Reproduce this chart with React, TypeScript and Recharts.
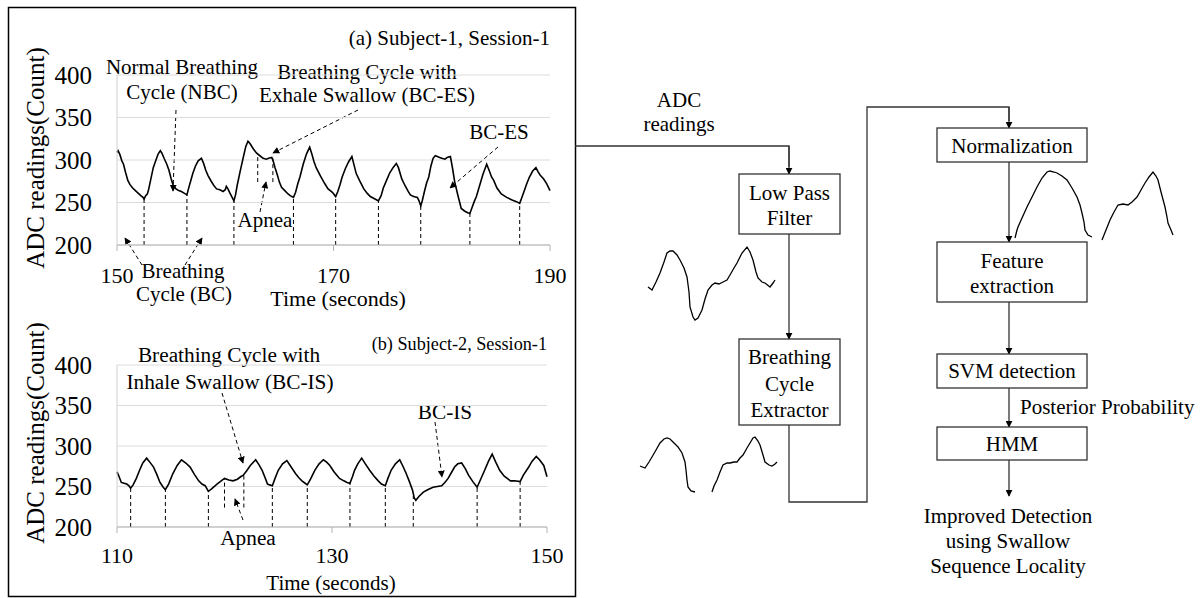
import React from 'react';
import { LineChart, Line, XAxis, YAxis, CartesianGrid, ReferenceLine } from 'recharts';

const FONT = 'Liberation Serif, Times New Roman, serif';

// (a) Subject-1, Session-1
const topTime = [
  150.0, 150.1, 150.25, 150.45, 150.6, 150.8, 151.0, 151.2, 151.45, 151.7, 151.95, 152.2, 152.4, 152.5, 152.65, 152.8,
  152.9, 153.1, 153.35, 153.6, 153.8, 154.0, 154.15, 154.35, 154.6, 154.8, 155.0, 155.2, 155.45, 155.7, 155.95, 156.2,
  156.46, 156.6, 156.8, 157.0, 157.25, 157.5, 157.8, 158.0, 158.2, 158.4, 158.7, 159.0, 159.2, 159.5, 159.8, 160.0,
  160.1, 160.25, 160.4, 160.6, 160.8, 160.95, 161.1, 161.4, 161.7, 161.9, 162.1, 162.3, 162.6, 162.9, 163.2, 163.5,
  163.8, 164.0, 164.3, 164.45, 164.6, 164.8, 165.0, 165.2, 165.5, 165.8, 166.0, 166.3, 166.5, 166.7, 166.9, 167.2,
  167.5, 167.8, 168.0, 168.2, 168.4, 168.8, 169.2, 169.5, 169.9, 170.2, 170.4, 170.6, 170.8, 171.1, 171.4, 171.7,
  171.9, 172.1, 172.4, 172.8, 173.1, 173.4, 173.7, 174.0, 174.15, 174.4, 174.6, 174.9, 175.2, 175.5, 175.8, 176.0,
  176.3, 176.6, 176.9, 177.1, 177.4, 177.75, 177.9, 178.06, 178.2, 178.4, 178.6, 178.8, 179.0, 179.2, 179.4, 179.6,
  179.8, 180.0, 180.3, 180.5, 180.8, 181.0, 181.2, 181.5, 181.8, 182.1, 182.4, 182.6, 182.8, 183.0, 183.2, 183.5,
  183.8, 184.15, 184.4, 184.6, 184.8, 185.1, 185.5, 186.0, 186.5, 186.9, 187.2, 187.4, 187.6, 187.85, 188.1, 188.4,
  188.7, 188.9, 189.1, 189.4, 189.7, 190.0,
];
const topAdc = [
  309, 311, 307, 299, 295, 285, 276, 271, 267, 264, 261, 258, 256, 254, 258, 260,
  264, 276, 291, 300, 307, 311, 308, 302, 295, 288, 278, 270, 266, 264, 263, 261,
  259, 266, 275, 284, 293, 299, 302, 296, 288, 282, 275, 269, 266, 265, 263, 265,
  269, 266, 262, 257, 252, 259, 270, 288, 305, 316, 322, 319, 313, 308, 305, 302,
  301, 302, 303, 298, 291, 283, 274, 268, 264, 260, 258, 256, 262, 272, 280, 295,
  307, 315, 307, 298, 291, 281, 272, 266, 262, 257, 263, 271, 280, 290, 298, 304,
  294, 284, 276, 266, 261, 257, 255, 253, 252, 258, 267, 276, 285, 291, 296, 291,
  278, 270, 263, 259, 257, 256, 252, 246, 252, 263, 273, 280, 293, 302, 305, 304,
  303, 302, 301, 303, 304, 290, 274, 258, 243, 240, 238, 237, 244, 251, 257, 270,
  283, 295, 287, 280, 276, 267, 260, 256, 253, 251, 249, 256, 263, 272, 280, 287,
  291, 286, 282, 278, 272, 264,
];
const topCycleTimes = [152.5, 156.46, 160.8, 166.3, 170.2, 174.15, 178.06, 182.6, 187.2];
const topCycleTops = [254, 259, 252, 256, 257, 252, 246, 237, 249];
const topApneaTimes = [163.0, 164.4];
const topApneaTops = [304, 302];
const topApneaBottom = 274;
const topTicks = [150, 170, 190];

// (b) Subject-2, Session-1
const bottomTime = [
  110.0, 110.2, 110.4, 110.65, 110.9, 111.1, 111.27, 111.5, 111.8, 112.1, 112.4, 112.76, 113.0, 113.4, 113.7, 114.0,
  114.3, 114.5, 114.8, 115.2, 115.6, 116.0, 116.4, 116.8, 117.2, 117.6, 117.9, 118.2, 118.5, 118.8, 119.3, 119.6,
  120.0, 120.4, 120.8, 121.2, 121.5, 121.75, 122.1, 122.4, 122.9, 123.2, 123.5, 123.8, 124.0, 124.2, 124.45, 124.7,
  125.0, 125.4, 125.8, 126.2, 126.6, 126.9, 127.2, 127.5, 127.7, 128.0, 128.4, 128.8, 129.2, 129.5, 129.8, 130.2,
  130.7, 131.1, 131.4, 131.67, 131.9, 132.1, 132.4, 132.76, 133.1, 133.5, 133.9, 134.3, 134.6, 134.96, 135.2, 135.5,
  135.9, 136.3, 136.6, 136.9, 137.2, 137.5, 137.65, 137.8, 138.1, 138.5, 138.9, 139.4, 139.8, 140.2, 140.5, 140.8,
  141.1, 141.4, 141.7, 142.06, 142.4, 142.7, 143.1, 143.5, 143.8, 144.2, 144.55, 144.9, 145.2, 145.6, 146.0, 146.6,
  147.0, 147.5, 147.8, 148.3, 148.6, 149.0, 149.3, 149.7, 150.0,
];
const bottomAdc = [
  268, 262, 255, 254, 253, 251, 248, 252, 260, 270, 279, 285, 281, 274, 265, 255,
  249, 246, 253, 266, 276, 283, 279, 274, 265, 257, 253, 251, 244, 247, 253, 256,
  260, 258, 257, 259, 262, 264, 270, 276, 283, 277, 270, 260, 253, 252, 251, 260,
  270, 278, 282, 274, 266, 261, 257, 254, 252, 259, 270, 278, 283, 280, 276, 268,
  260, 257, 255, 254, 262, 270, 278, 285, 278, 270, 263, 257, 253, 251, 260, 270,
  278, 283, 275, 266, 256, 245, 236, 233, 238, 243, 246, 249, 250, 251, 255, 260,
  267, 274, 278, 279, 272, 264, 256, 249, 258, 270, 281, 290, 281, 270, 263, 257,
  257, 256, 264, 274, 281, 287, 283, 276, 262,
];
const bottomCycleTimes = [111.27, 114.5, 118.5, 124.45, 127.7, 131.67, 134.96, 137.56, 143.5, 147.5];
const bottomCycleTops = [248, 246, 244, 251, 252, 254, 251, 238, 249, 256];
const bottomApneaTimes = [120.0, 121.8];
const bottomApneaTops = [260, 264];
const bottomApneaBottom = 224;
const bottomTicks = [110, 130, 150];

const yTicks = [200, 250, 300, 350, 400];

// thumbnails (sample index, relative amplitude)
const lpfX = [3, 7, 11, 15, 19, 22, 25, 28, 32, 35, 39, 42, 44, 45, 48, 50, 53, 57, 60, 63, 67, 70, 74, 78, 82, 85, 89, 92, 97, 102, 105, 108, 111, 113, 117, 120, 125, 128, 130];
const lpfY = [38, 35, 43, 52, 63, 72, 74, 74, 70, 65, 57, 48, 33, 18, 8, 5, 7, 15, 26, 35, 40, 42, 41, 43, 45, 50, 57, 62, 72, 78, 73, 65, 53, 47, 43, 42, 38, 42, 45];

const bcNbcX = [5, 10, 14, 17, 21, 25, 29, 32, 35, 38, 43, 47, 50, 51, 52, 53, 56, 60];
const bcNbcY = [29, 27, 33, 38, 45, 52, 56, 57, 56, 53, 48, 42, 33, 25, 15, 8, 4, 3];
const bcEsX = [77, 79, 82, 85, 88, 92, 95, 99, 102, 105, 108, 112, 115, 118, 120, 123, 125, 128, 130, 134, 137, 140, 142];
const bcEsY = [3, 9, 15, 23, 30, 32, 32, 33, 33, 37, 40, 47, 52, 57, 58, 54, 50, 40, 33, 30, 29, 31, 33];

const normNbcX = [5, 7, 8, 12, 17, 22, 27, 32, 37, 40, 44, 47, 52, 57, 62, 67, 70, 72, 74, 75, 78, 82];
const normNbcY = [7, 15, 18, 27, 38, 48, 58, 67, 73, 74, 73, 72, 69, 65, 57, 48, 40, 32, 23, 15, 10, 8];
const normEsX = [92, 96, 100, 104, 108, 113, 118, 122, 127, 131, 135, 139, 143, 146, 148, 151, 155, 157, 158, 161, 163];
const normEsY = [5, 15, 25, 33, 40, 41, 40, 43, 48, 55, 62, 68, 73, 69, 65, 53, 38, 28, 22, 15, 10];

const zip = (xs: number[], ys: number[]) => xs.map((x, i) => ({ t: x, v: ys[i] }));

interface SignalProps {
  top: number;
  height: number;
  right: number;
  plotHeight: number;
  times: number[];
  values: number[];
  ticks: number[];
  cycleTimes: number[];
  cycleTops: number[];
  apneaTimes: number[];
  apneaTops: number[];
  apneaBottom: number;
  xTickMargin: number;
}

function SignalChart(p: SignalProps) {
  const data = zip(p.times, p.values);
  const xAxisH = 40;
  return (
    <div style={{ position: 'absolute', left: 0, top: p.top }}>
      <LineChart
        width={575}
        height={p.height}
        data={data}
        margin={{ top: 75, right: p.right, bottom: p.height - 75 - xAxisH - p.plotHeight, left: 57 }}
      >
        <CartesianGrid vertical={false} stroke="#dcdcdc" />
        <XAxis
          dataKey="t"
          type="number"
          domain={[p.ticks[0], p.ticks[p.ticks.length - 1]]}
          ticks={p.ticks}
          interval={0}
          height={xAxisH}
          tickSize={6}
          tickMargin={p.xTickMargin}
          axisLine={{ stroke: '#b3b3b3' }}
          tickLine={{ stroke: '#b3b3b3' }}
          tick={{ fontSize: 22, fill: '#000', fontFamily: FONT }}
        />
        <YAxis
          type="number"
          domain={[200, 400]}
          ticks={yTicks}
          interval={0}
          width={60}
          tickSize={6}
          tickMargin={19}
          tickLine={false}
          axisLine={{ stroke: '#d0d0d0' }}
          tick={{ fontSize: 25, fill: '#000', fontFamily: FONT }}
        />
        {p.cycleTimes.map((t, i) => (
          <ReferenceLine
            key={'c' + i}
            segment={[{ x: t, y: 200 }, { x: t, y: p.cycleTops[i] }]}
            stroke="#000"
            strokeWidth={1}
            strokeDasharray="4 3"
          />
        ))}
        {p.apneaTimes.map((t, i) => (
          <ReferenceLine
            key={'a' + i}
            segment={[{ x: t, y: p.apneaBottom }, { x: t, y: p.apneaTops[i] }]}
            stroke="#000"
            strokeWidth={1}
            strokeDasharray="4 3"
          />
        ))}
        <Line type="linear" dataKey="v" stroke="#000" strokeWidth={1.6} dot={false} isAnimationActive={false} />
      </LineChart>
    </div>
  );
}

function Thumb({ left, top, width, height, segs }: { left: number; top: number; width: number; height: number; segs: { t: number; v: number }[][] }) {
  return (
    <div style={{ position: 'absolute', left, top }}>
      <LineChart width={width} height={height} margin={{ top: 0, right: 0, bottom: 0, left: 0 }}>
        <XAxis dataKey="t" type="number" domain={[0, width]} hide />
        <YAxis type="number" domain={[0, height]} hide />
        {segs.map((s, i) => (
          <Line key={i} data={s} type="linear" dataKey="v" stroke="#000" strokeWidth={1.3} dot={false} isAnimationActive={false} />
        ))}
      </LineChart>
    </div>
  );
}

function Arrow({ x1, y1, x2, y2 }: { x1: number; y1: number; x2: number; y2: number }) {
  return <line x1={x1} y1={y1} x2={x2} y2={y2} stroke="#000" strokeWidth={1} strokeDasharray="4 3" markerEnd="url(#ah)" />;
}

function Box({ x, y, w, h, lines, baselines }: { x: number; y: number; w: number; h: number; lines: string[]; baselines: number[] }) {
  return (
    <g>
      <rect x={x} y={y} width={w} height={h} fill="#fff" stroke="#333" strokeWidth={1.3} />
      {lines.map((l, i) => (
        <text key={i} x={x + w / 2} y={baselines[i]} textAnchor="middle" fontSize={21} fill="#000">
          {l}
        </text>
      ))}
    </g>
  );
}

export default function App() {
  return (
    <div style={{ position: 'absolute', left: 0, top: 0, width: 1202, height: 598, background: '#fff', fontFamily: FONT }}>
      <svg width={1202} height={598} style={{ position: 'absolute', left: 0, top: 0, fontFamily: FONT }} fill="#000">
        <defs>
          <marker id="ah" viewBox="0 0 10 10" refX="9" refY="5" markerWidth="7" markerHeight="7" markerUnits="userSpaceOnUse" orient="auto">
            <path d="M0,0 L10,5 L0,10 z" fill="#000" />
          </marker>
        </defs>
        <rect x={8.5} y={7.5} width={567} height={589} fill="none" stroke="#000" strokeWidth={1.5} />

        {/* top chart texts */}
        <text x={550} y={45} textAnchor="end" fontSize={21}>(a) Subject-1, Session-1</text>
        <text transform="translate(44,158) rotate(-90)" textAnchor="middle" fontSize={25}>ADC readings(Count)</text>
        <text x={338} y={306} textAnchor="middle" fontSize={22}>Time (seconds)</text>
        <g fontSize={21} textAnchor="middle">
          <text x={182} y={74}>Normal Breathing</text>
          <text x={182} y={99}>Cycle (NBC)</text>
          <text x={367} y={79}>Breathing Cycle with</text>
          <text x={367} y={102}>Exhale Swallow (BC-ES)</text>
          <text x={499} y={139}>BC-ES</text>
          <text x={265} y={227}>Apnea</text>
          <text x={183} y={278}>Breathing</text>
          <text x={184} y={301}>Cycle (BC)</text>
        </g>
        <Arrow x1={176} y1={110} x2={173} y2={191} />
        <Arrow x1={358} y1={110} x2={273} y2={153} />
        <Arrow x1={498} y1={147} x2={450} y2={188} />
        <Arrow x1={260} y1={212} x2={266} y2={182} />
        <Arrow x1={142} y1={265} x2={125} y2={238} />
        <Arrow x1={185} y1={265} x2={202} y2={238} />

        {/* bottom chart texts */}
        <text x={547} y={350} textAnchor="end" fontSize={18.2}>(b) Subject-2, Session-1</text>
        <text transform="translate(44,433) rotate(-90)" textAnchor="middle" fontSize={25}>ADC readings(Count)</text>
        <text x={331} y={590} textAnchor="middle" fontSize={21}>Time (seconds)</text>
        <g fontSize={21.3} textAnchor="middle">
          <text x={229} y={362}>Breathing Cycle with</text>
          <text x={230} y={389}>Inhale Swallow (BC-IS)</text>
          <text x={445} y={419}>BC-IS</text>
          <text x={248} y={545}>Apnea</text>
        </g>
        <Arrow x1={222} y1={393} x2={243} y2={463} />
        <Arrow x1={243} y1={520} x2={235} y2={499} />
        <Arrow x1={435} y1={422} x2={442} y2={477} />

        {/* flow chart */}
        <g fill="none" stroke="#333" strokeWidth={1.3}>
          <polyline points="575,146 789,146 789,167" />
          <polyline points="789,425 789,502 867,502 867,107 1009,107 1009,121" />
        </g>
        <g stroke="#333" strokeWidth={1.3}>
          <line x1={789} y1={146} x2={789} y2={174} markerEnd="url(#ah)" />
          <line x1={789} y1={234} x2={789} y2={339} markerEnd="url(#ah)" />
          <line x1={1009} y1={107} x2={1009} y2={128} markerEnd="url(#ah)" />
          <line x1={1009} y1={162} x2={1009} y2={242} markerEnd="url(#ah)" />
          <line x1={1009} y1={302} x2={1009} y2={354} markerEnd="url(#ah)" />
          <line x1={1009} y1={388} x2={1009} y2={427} markerEnd="url(#ah)" />
          <line x1={1009} y1={460} x2={1009} y2={496} markerEnd="url(#ah)" />
        </g>
        <text x={679} y={107} textAnchor="middle" fontSize={21}>ADC</text>
        <text x={679} y={131} textAnchor="middle" fontSize={21}>readings</text>
        <Box x={739} y={174} w={101} h={60} lines={['Low Pass', 'Filter']} baselines={[200, 225]} />
        <Box x={739} y={339} w={101} h={86} lines={['Breathing', 'Cycle', 'Extractor']} baselines={[364, 391, 417]} />
        <Box x={937} y={128} w={150} h={34} lines={['Normalization']} baselines={[153]} />
        <Box x={937} y={242} w={150} h={60} lines={['Feature', 'extraction']} baselines={[268, 293]} />
        <Box x={937} y={354} w={150} h={34} lines={['SVM detection']} baselines={[378]} />
        <Box x={937} y={427} w={150} h={33} lines={['HMM']} baselines={[451]} />
        <text x={1020} y={414} fontSize={21}>Posterior Probability</text>
        <g fontSize={21} textAnchor="middle">
          <text x={1008} y={523}>Improved Detection</text>
          <text x={1008} y={548}>using Swallow</text>
          <text x={1008} y={573}>Sequence Locality</text>
        </g>
      </svg>

      <SignalChart
        top={0}
        height={310}
        right={25}
        plotHeight={170}
        times={topTime}
        values={topAdc}
        ticks={topTicks}
        cycleTimes={topCycleTimes}
        cycleTops={topCycleTops}
        apneaTimes={topApneaTimes}
        apneaTops={topApneaTops}
        apneaBottom={topApneaBottom}
        xTickMargin={16}
      />
      <SignalChart
        top={290}
        height={290}
        right={28}
        plotHeight={162}
        times={bottomTime}
        values={bottomAdc}
        ticks={bottomTicks}
        cycleTimes={bottomCycleTimes}
        cycleTops={bottomCycleTops}
        apneaTimes={bottomApneaTimes}
        apneaTops={bottomApneaTops}
        apneaBottom={bottomApneaBottom}
        xTickMargin={14}
      />

      <Thumb left={645} top={245} width={135} height={80} segs={[zip(lpfX, lpfY)]} />
      <Thumb left={635} top={430} width={145} height={65} segs={[zip(bcNbcX, bcNbcY), zip(bcEsX, bcEsY)]} />
      <Thumb left={1010} top={165} width={170} height={80} segs={[zip(normNbcX, normNbcY), zip(normEsX, normEsY)]} />
    </div>
  );
}
